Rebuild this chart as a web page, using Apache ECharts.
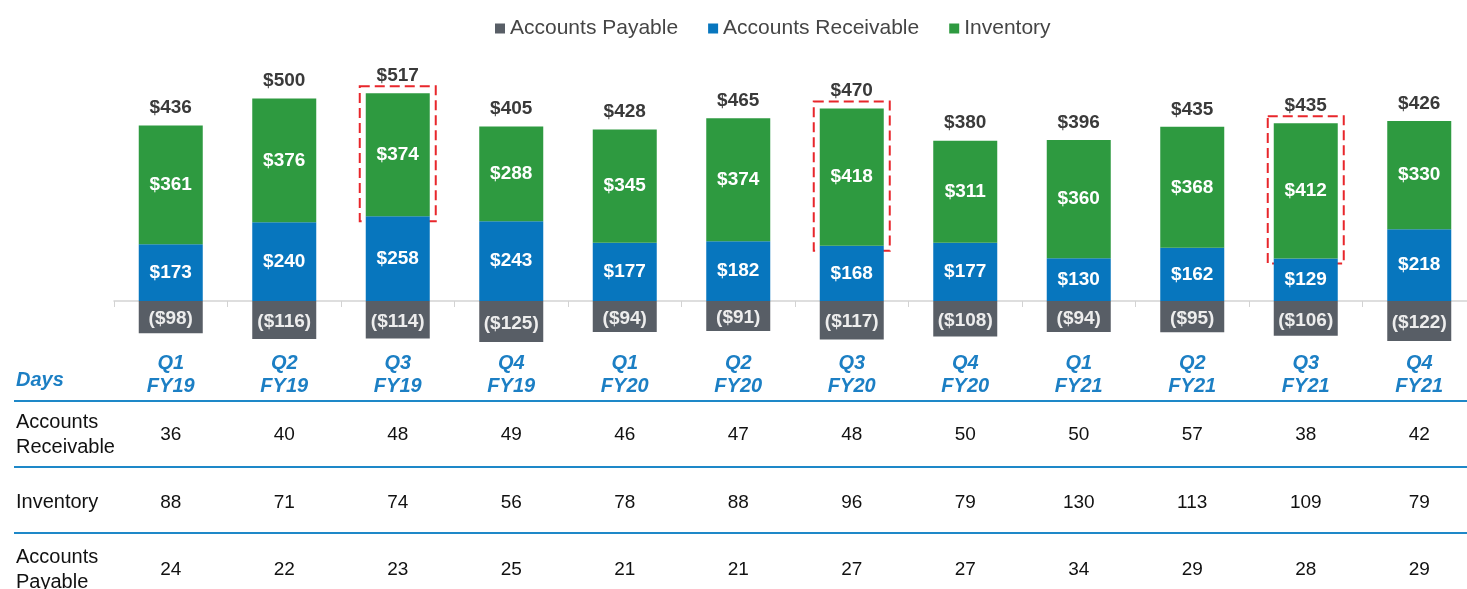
<!DOCTYPE html>
<html>
<head>
<meta charset="utf-8">
<script src="https://cdn.jsdelivr.net/npm/echarts@6/dist/echarts.min.js"></script>
<style>
  html, body { margin: 0; padding: 0; background: #fff; }
  #chart { width: 1467px; height: 589px; }
</style>
</head>
<body>
<div id="chart"></div>
<script>
// Working capital by quarter ($ millions) and days outstanding
const quarters = ['Q1\nFY19', 'Q2\nFY19', 'Q3\nFY19', 'Q4\nFY19',
                  'Q1\nFY20', 'Q2\nFY20', 'Q3\nFY20', 'Q4\nFY20',
                  'Q1\nFY21', 'Q2\nFY21', 'Q3\nFY21', 'Q4\nFY21'];
const accountsPayable    = [-98, -116, -114, -125, -94, -91, -117, -108, -94, -95, -106, -122];
const accountsReceivable = [173, 240, 258, 243, 177, 182, 168, 177, 130, 162, 129, 218];
const inventory          = [361, 376, 374, 288, 345, 374, 418, 311, 360, 368, 412, 330];
const netTotals          = [436, 500, 517, 405, 428, 465, 470, 380, 396, 435, 435, 426];
const highlighted        = [2, 6, 10];

// Days table
const dayRows   = ['Accounts\nReceivable', 'Inventory', 'Accounts\nPayable'];
const daysAR    = [36, 40, 48, 49, 46, 47, 48, 50, 50, 57, 38, 42];
const daysInv   = [88, 71, 74, 56, 78, 88, 96, 79, 130, 113, 109, 79];
const daysAP    = [24, 22, 23, 25, 21, 21, 27, 27, 34, 29, 28, 29];

const FONT = 'Arial, "Liberation Sans", sans-serif';
const C_AP = '#585E66', C_AR = '#0776BE', C_INV = '#2E9A40';
const BLUE_TXT = '#1C7FC4', RULE = '#1E88C8';

const fmtMoney = v => v < 0 ? '($' + (-v) + ')' : '$' + v;

const tableData = [];
[daysAR, daysInv, daysAP].forEach((row, r) => {
  row.forEach((v, i) => tableData.push([i, r, v]));
});

const chart = echarts.init(document.getElementById('chart'), null, { renderer: 'canvas' });

const barLabel = (color, offset) => ({
  show: true, position: 'inside', color: color, fontFamily: FONT,
  fontSize: 19, fontWeight: 'bold', offset: offset || [0, 0],
  formatter: p => fmtMoney(p.value)
});

chart.setOption({
  animation: false,
  textStyle: { fontFamily: FONT },
  legend: {
    data: ['Accounts Payable', 'Accounts Receivable', 'Inventory'],
    left: 490, top: 13, icon: 'rect', itemWidth: 10, itemHeight: 10, itemGap: 30,
    textStyle: { fontSize: 21, color: '#454545', fontFamily: FONT }
  },
  grid: [
    // bar area: the bottom edge is the zero line, negatives hang below it
    { left: 114, width: 1362, top: 71, height: 230, outerBoundsMode: 'none' },
    // days table: one row per tick
    { left: 114, width: 1362, top: 435, height: 135, outerBoundsMode: 'none' }
  ],
  xAxis: [
    {
      type: 'category', data: quarters, gridIndex: 0,
      axisLine: { lineStyle: { color: '#D3D3D3', width: 1.5 } },
      axisTick: { show: true, length: 6, lineStyle: { color: '#D3D3D3' } },
      axisLabel: { show: false }
    },
    {
      type: 'category', data: quarters, gridIndex: 1, position: 'top',
      axisLine: { show: false }, axisTick: { show: false },
      axisLabel: {
        interval: 0, margin: 37, color: BLUE_TXT, fontFamily: FONT,
        fontStyle: 'italic', fontWeight: 'bold', fontSize: 20, lineHeight: 23
      }
    }
  ],
  yAxis: [
    { type: 'value', gridIndex: 0, min: 0, max: 700, show: false },
    {
      type: 'value', gridIndex: 1, min: 0, max: 2, interval: 1, inverse: true,
      axisLine: { show: false }, axisTick: { show: false }, splitLine: { show: false },
      axisLabel: {
        align: 'left', margin: 98, color: '#111', fontFamily: FONT,
        fontSize: 20, lineHeight: 25, formatter: v => dayRows[v]
      }
    }
  ],
  series: [
    {
      name: 'Accounts Payable', type: 'bar', stack: 'wc', data: accountsPayable,
      barWidth: 64, clip: false, itemStyle: { color: C_AP },
      label: barLabel('#EDEDED', [0, 2])
    },
    {
      name: 'Accounts Receivable', type: 'bar', stack: 'wc', data: accountsReceivable,
      barWidth: 64, clip: false, itemStyle: { color: C_AR },
      label: barLabel('#FFFFFF')
    },
    {
      name: 'Inventory', type: 'bar', stack: 'wc', data: inventory,
      barWidth: 64, clip: false, itemStyle: { color: C_INV },
      label: barLabel('#FFFFFF')
    },
    {
      // net totals above each column
      name: 'Net', type: 'custom', silent: true, clip: false,
      data: quarters.map((q, i) => [i, accountsReceivable[i] + inventory[i], netTotals[i]]),
      renderItem: (params, api) => {
        const pt = api.coord([api.value(0), api.value(1)]);
        return {
          type: 'text', x: pt[0], y: pt[1] - 8,
          style: {
            text: '$' + api.value(2), fill: '#3A3A3A',
            font: 'bold 19px ' + FONT, textAlign: 'center', textVerticalAlign: 'bottom'
          }
        };
      }
    },
    {
      // dashed frames around the inventory segment of Q3 columns
      name: 'Q3', type: 'custom', silent: true, clip: false,
      data: highlighted.map(i => [i, accountsReceivable[i], accountsReceivable[i] + inventory[i]]),
      renderItem: (params, api) => {
        const lo = api.coord([api.value(0), api.value(1)]);
        const hi = api.coord([api.value(0), api.value(2)]);
        const halfW = 32 + 6;
        return {
          type: 'rect',
          shape: { x: lo[0] - halfW, y: hi[1] - 7, width: halfW * 2, height: lo[1] - hi[1] + 12 },
          style: { fill: 'none', stroke: '#E8262B', lineWidth: 2, lineDash: [10, 5] }
        };
      }
    },
    {
      // days table cells
      name: 'Days', type: 'custom', xAxisIndex: 1, yAxisIndex: 1, silent: true, clip: false,
      data: tableData,
      renderItem: (params, api) => {
        const pt = api.coord([api.value(0), api.value(1)]);
        return {
          type: 'text', x: pt[0], y: pt[1],
          style: {
            text: String(api.value(2)), fill: '#111',
            font: '19px ' + FONT, textAlign: 'center', textVerticalAlign: 'middle'
          }
        };
      }
    }
  ],
  graphic: [
    {
      type: 'text', left: 16, top: 370,
      style: { text: 'Days', fill: BLUE_TXT, font: 'italic bold 20px ' + FONT }
    },
    { type: 'line', shape: { x1: 14, y1: 401, x2: 1467, y2: 401 }, style: { stroke: RULE, lineWidth: 2 } },
    { type: 'line', shape: { x1: 14, y1: 467, x2: 1467, y2: 467 }, style: { stroke: RULE, lineWidth: 2 } },
    { type: 'line', shape: { x1: 14, y1: 533, x2: 1467, y2: 533 }, style: { stroke: RULE, lineWidth: 2 } }
  ]
});
</script>
</body>
</html>
